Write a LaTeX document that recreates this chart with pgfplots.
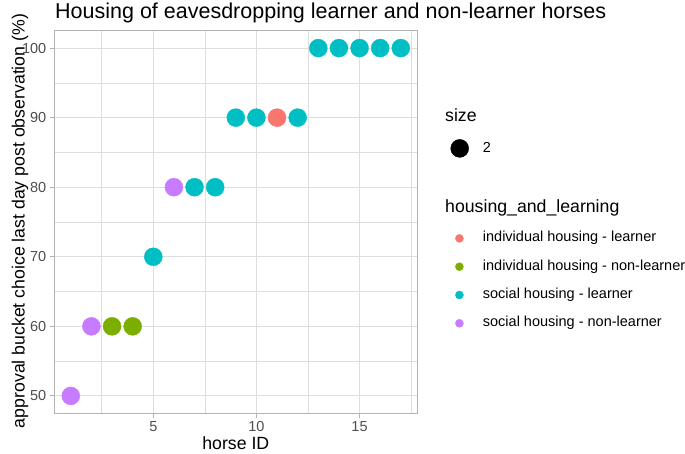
\documentclass[border=0pt]{standalone}
\usepackage{fontspec}
\setmainfont{Liberation Sans}
\usepackage{pgfplots}
\pgfplotsset{compat=1.18}

\definecolor{hueR}{HTML}{F8766D}
\definecolor{hueG}{HTML}{7CAE00}
\definecolor{hueC}{HTML}{00BFC4}
\definecolor{hueP}{HTML}{C77CFF}
\definecolor{gridc}{HTML}{DEDEDE}
\definecolor{borderc}{HTML}{B3B3B3}
\definecolor{tickc}{HTML}{4D4D4D}

\newcommand{\ticksize}{\fontsize{14.5}{16}\selectfont}
\newcommand{\titlesize}{\fontsize{17.7}{20}\selectfont}

\begin{document}
\begin{tikzpicture}[x=1pt,y=1pt]
\useasboundingbox (0,0) rectangle (685,454);

% main panel
\begin{axis}[
  at={(54.3pt,40.7pt)}, anchor=south west, scale only axis,
  width=363pt, height=382.6pt,
  xmin=0.2, xmax=17.8, ymin=47.5, ymax=102.5,
  xtick={5,10,15}, ytick={50,60,...,100},
  minor xtick={2.5,7.5,12.5,17.5}, minor ytick={55,65,...,95},
  grid=both,
  major grid style={gridc, line width=1pt},
  minor grid style={gridc, line width=0.5pt},
  axis line style={borderc, line width=1pt},
  tick align=outside, tick pos=left,
  major tick length=4.5pt, minor tick length=0pt,
  every tick/.style={borderc, line width=1pt},
  ticklabel style={font=\ticksize, text=tickc},
  /pgf/number format/assume math mode=true,
]
\addplot[only marks, mark=*, mark size=9pt, color=hueR] coordinates {(11,90)};
\addplot[only marks, mark=*, mark size=9pt, color=hueG] coordinates {(3,60) (4,60)};
\addplot[only marks, mark=*, mark size=9pt, color=hueC] coordinates {
  (5,70) (7,80) (8,80) (9,90) (10,90) (12,90)
  (13,100) (14,100) (15,100) (16,100) (17,100)};
\addplot[only marks, mark=*, mark size=9pt, color=hueP] coordinates {(1,50) (2,60) (6,80)};
\end{axis}

% size legend
\begin{axis}[
  at={(0pt,0pt)}, anchor=south west, scale only axis,
  width=685pt, height=454pt, xmin=0, xmax=685, ymin=0, ymax=454,
  hide axis,
  legend image code/.code={\fill[#1] (9pt,0pt) circle (9pt);},
  legend style={at={(450.3/685,315/454)}, anchor=north west,
    draw=none, fill=none, inner sep=0pt, column sep=14pt,
    nodes={inner sep=0pt, font=\ticksize}},
]
\addlegendimage{black}
\addlegendentry{2}
\end{axis}

% colour legend
\begin{axis}[
  at={(0pt,0pt)}, anchor=south west, scale only axis,
  width=685pt, height=454pt, xmin=0, xmax=685, ymin=0, ymax=454,
  hide axis,
  legend image code/.code={\fill[#1] (4pt,0pt) circle (4pt);},
  legend cell align=left,
  legend style={at={(455/685,222.3/454)}, anchor=north west,
    draw=none, fill=none, inner sep=0pt, column sep=19.3pt, row sep=15.3pt,
    nodes={inner sep=0pt, font=\ticksize, text height=10pt, text depth=3pt}},
]
\addlegendimage{hueR}
\addlegendentry{individual housing - learner}
\addlegendimage{hueG}
\addlegendentry{individual housing - non-learner}
\addlegendimage{hueC}
\addlegendentry{social housing - learner}
\addlegendimage{hueP}
\addlegendentry{social housing - non-learner}
\end{axis}

% titles
\node[anchor=base west, inner sep=0pt, font=\fontsize{21.5}{24}\selectfont] at (55,435.5)
  {Housing of eavesdropping learner and non-learner horses};
\node[anchor=base, inner sep=0pt, font=\titlesize] at (235.8,4)
  {horse ID};
\node[anchor=base, rotate=90, inner sep=0pt, font=\titlesize] at (24.5,233)
  {approval bucket choice last day post observation (\%)};
\node[anchor=base west, inner sep=0pt, font=\titlesize] at (445,332.3) {size};
\node[anchor=base west, inner sep=0pt, font=\titlesize] at (445,241.3) {housing\_and\_learning};
\end{tikzpicture}
\end{document}
